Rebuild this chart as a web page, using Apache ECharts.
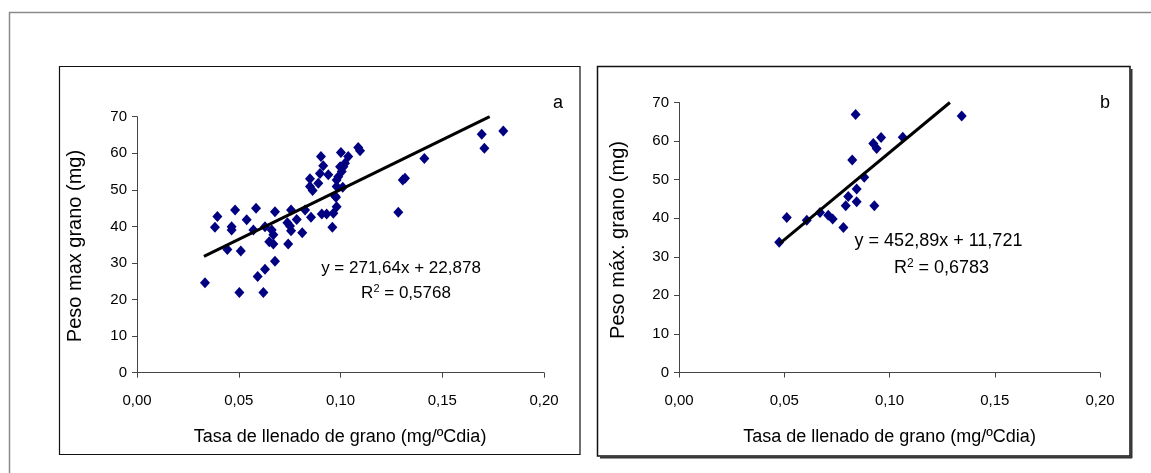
<!DOCTYPE html>
<html>
<head>
<meta charset="utf-8">
<script src="https://cdn.jsdelivr.net/npm/echarts@6/dist/echarts.min.js"></script>
<style>
html,body{margin:0;padding:0;background:#fff;}
#c{width:1151px;height:473px;}
</style>
</head>
<body>
<div id="c"></div>
<script>
// ---- data ----
const xTickLabels = ['0,00', '0,05', '0,10', '0,15', '0,20'];
const yTickLabels = ['0', '10', '20', '30', '40', '50', '60', '70'];

// Panel a: Tasa de llenado (mg/ºCdia) vs Peso max grano (mg)
const pointsA = [
  [0.0904, 59.1], [0.1002, 60.2], [0.1038, 59.1], [0.0915, 56.6], [0.0899, 54.5],
  [0.0940, 54.1], [0.0850, 53.0], [0.0891, 51.8], [0.0850, 50.9], [0.0863, 49.8],
  [0.0981, 52.7], [0.1006, 55.0], [0.1014, 56.3], [0.1022, 57.3], [0.0981, 50.9],
  [0.0978, 48.0], [0.0981, 45.4], [0.0965, 43.6], [0.0908, 43.4], [0.0932, 43.4],
  [0.0855, 42.5], [0.0960, 39.8], [0.0826, 44.5], [0.0812, 38.3], [0.0785, 41.9],
  [0.0757, 44.5], [0.0752, 40.1], [0.0757, 38.8], [0.0739, 41.0], [0.0743, 35.2],
  [0.0678, 44.0], [0.0678, 30.5], [0.0662, 39.0], [0.0670, 37.7], [0.0650, 35.8],
  [0.0670, 35.2], [0.0629, 39.9], [0.0585, 45.0], [0.0572, 39.0], [0.0539, 41.8],
  [0.0482, 44.5], [0.0465, 39.9], [0.0465, 39.0], [0.0444, 33.7], [0.0510, 33.3],
  [0.0395, 42.7], [0.0383, 39.8], [0.0629, 28.3], [0.0593, 26.3], [0.0334, 24.6],
  [0.0503, 21.9], [0.0621, 21.9], [0.1800, 66.1], [0.1694, 65.2], [0.1707, 61.4],
  [0.1412, 58.6], [0.1306, 52.7], [0.1317, 53.2], [0.1284, 43.9], [0.1087, 61.6],
  [0.1096, 60.7], [0.0998, 56.3], [0.0989, 53.6], [0.1011, 50.7], [0.0973, 48.3]
];
// trend line a as drawn (start / end)
const trendA = [[0.0329, 31.8], [0.1733, 70]];
const eqA = 'y = 271,64x + 22,878';
const r2A = ['R', '2', ' = 0,5768'];

// Panel b
const pointsB = [
  [0.0476, 33.8], [0.0512, 40.2], [0.0607, 39.5], [0.0670, 41.5], [0.0709, 40.8],
  [0.0730, 39.8], [0.0781, 37.6], [0.0792, 43.2], [0.0804, 45.6], [0.0823, 55.1],
  [0.0839, 66.9], [0.0844, 44.3], [0.0844, 47.6], [0.0880, 50.6], [0.0928, 43.2],
  [0.0923, 59.4], [0.0939, 58.1], [0.0960, 60.9], [0.1063, 61.0], [0.1343, 66.5]
];
const trendB = [[0.0478, 33.4], [0.1287, 70]];
const eqB = 'y = 452,89x + 11,721';
const r2B = ['R', '2', ' = 0,6783'];

const yTitleA = 'Peso max grano (mg)';
const yTitleB = 'Peso máx. grano (mg)';
const xTitle = 'Tasa de llenado de grano (mg/ºCdia)';

// ---- chart ----
const FONT = "'Liberation Sans', Arial, sans-serif";
const axisColor = '#444';

function xAxisDef(gi) {
  return {
    gridIndex: gi, type: 'value', min: 0, max: 0.2, interval: 0.05,
    axisLine: {show: true, onZero: false, lineStyle: {color: axisColor, width: 1}},
    axisTick: {show: true, inside: false, length: 5, lineStyle: {color: axisColor}},
    splitLine: {show: false},
    axisLabel: {
      margin: 21, color: '#000', fontSize: 15, fontFamily: FONT,
      formatter: v => xTickLabels[Math.round(v / 0.05)]
    }
  };
}
function yAxisDef(gi) {
  return {
    gridIndex: gi, type: 'value', min: 0, max: 70, interval: 10,
    axisLine: {show: true, onZero: false, lineStyle: {color: axisColor, width: 1}},
    axisTick: {show: true, inside: false, length: 5, lineStyle: {color: axisColor}},
    splitLine: {show: false},
    axisLabel: {
      margin: 10, color: '#000', fontSize: 15, fontFamily: FONT,
      formatter: v => yTickLabels[Math.round(v / 10)]
    }
  };
}

function txt(text, x, y, size, rot) {
  return {
    type: 'text', x: x, y: y, rotation: rot || 0, silent: true, z: 100,
    style: {text: text, fontSize: size, fontFamily: FONT, fill: '#000',
            textAlign: 'center', textVerticalAlign: 'middle'}
  };
}
function r2txt(parts, x, y, size) {
  return {
    type: 'text', x: x, y: y, silent: true, z: 100,
    style: {
      text: '{r|' + parts[0] + '}{s|' + parts[1] + '}{r|' + parts[2] + '}',
      textAlign: 'center', textVerticalAlign: 'middle', fill: '#000',
      rich: {
        r: {fontSize: size, fontFamily: FONT, fill: '#000', lineHeight: size + 2},
        s: {fontSize: Math.round(size * 0.65), fontFamily: FONT, fill: '#000', verticalAlign: 'top', lineHeight: size * 0.7}
      }
    }
  };
}

const chart = echarts.init(document.getElementById('c'), null, {renderer: 'canvas'});
chart.setOption({
  backgroundColor: '#fff',
  animation: false,
  grid: [
    {left: 137, top: 116.7, width: 407, height: 256},
    {left: 679, top: 102.5, width: 421, height: 270}
  ],
  xAxis: [xAxisDef(0), xAxisDef(1)],
  yAxis: [yAxisDef(0), yAxisDef(1)],
  series: [
    {type: 'scatter', xAxisIndex: 0, yAxisIndex: 0, data: pointsA,
     symbol: 'diamond', symbolSize: [10, 11], itemStyle: {color: '#000080', opacity: 1}, z: 3},
    {type: 'line', xAxisIndex: 0, yAxisIndex: 0, data: trendA, symbol: 'none',
     lineStyle: {color: '#000', width: 3}, z: 4},
    {type: 'scatter', xAxisIndex: 1, yAxisIndex: 1, data: pointsB,
     symbol: 'diamond', symbolSize: [10, 11], itemStyle: {color: '#000080', opacity: 1}, z: 3},
    {type: 'line', xAxisIndex: 1, yAxisIndex: 1, data: trendB, symbol: 'none',
     lineStyle: {color: '#000', width: 3}, z: 4}
  ],
  graphic: [
    // outer frame
    {type: 'line', shape: {x1: 9, y1: 12.5, x2: 1151, y2: 12.5}, style: {stroke: '#8a8a8a', lineWidth: 1.5}, silent: true},
    {type: 'line', shape: {x1: 9.5, y1: 12, x2: 9.5, y2: 473}, style: {stroke: '#8a8a8a', lineWidth: 1.5}, silent: true},
    // panel a box
    {type: 'rect', shape: {x: 59.5, y: 66.5, width: 520.5, height: 388}, style: {fill: 'none', stroke: '#111', lineWidth: 1.2}, silent: true, z: -1},
    // panel b box + shadow
    {type: 'rect', shape: {x: 597.5, y: 66.5, width: 532.5, height: 389.5}, style: {fill: 'none', stroke: '#111', lineWidth: 1.5}, silent: true, z: -1},
    {type: 'line', shape: {x1: 600, y1: 457.5, x2: 1132, y2: 457.5}, style: {stroke: '#333', lineWidth: 2}, silent: true},
    {type: 'line', shape: {x1: 1131.5, y1: 69, x2: 1131.5, y2: 458}, style: {stroke: '#333', lineWidth: 2}, silent: true},
    // titles
    txt(yTitleA, 75, 246, 20, Math.PI / 2),
    txt(yTitleB, 618, 240, 20, Math.PI / 2),
    txt(xTitle, 340, 437.5, 18),
    txt(xTitle, 889.5, 437.5, 18),
    // panel letters
    txt('a', 558, 103, 18),
    txt('b', 1105, 103, 18),
    // equations
    txt(eqA, 401, 268, 17),
    r2txt(r2A, 406, 293, 17),
    txt(eqB, 938.5, 241, 18),
    r2txt(r2B, 941.5, 268, 18)
  ]
});
</script>
</body>
</html>
